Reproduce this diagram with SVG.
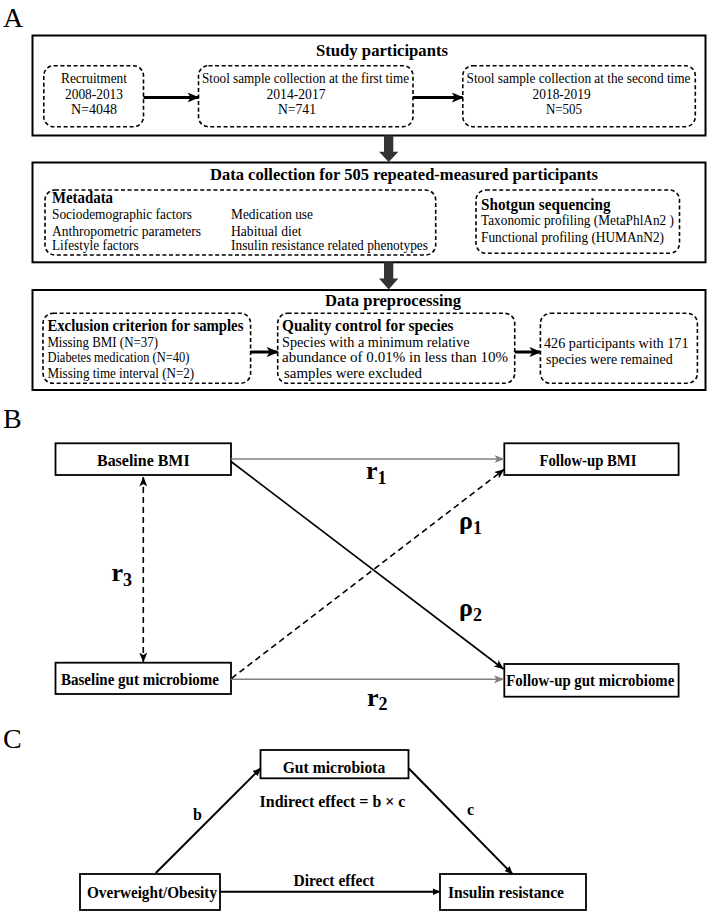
<svg xmlns="http://www.w3.org/2000/svg" width="708" height="913" viewBox="0 0 708 913">
<style>
text { font-family: "Liberation Serif", "Times New Roman", serif; fill: #000; }
.lbl { font-size: 28px; }
.h { font-size: 17px; font-weight: bold; }
.sh { font-size: 16px; font-weight: bold; }
.n { font-size: 15px; }
.nb { font-size: 16px; font-weight: bold; }
.sym { font-size: 26px; font-weight: bold; }
.sub { font-size: 18px; }
.box { fill: #fff; stroke: #000; stroke-width: 2; }
.bbox { fill: #fff; stroke: #000; stroke-width: 1.8; }
.dbox { fill: none; stroke: #000; stroke-width: 1.6; stroke-dasharray: 4 2.6; }
.thick { stroke: #000; stroke-width: 3; fill: none; }
.gray { stroke: #808080; stroke-width: 1.6; fill: none; }
.blk { stroke: #000; stroke-width: 1.6; fill: none; }
.dash { stroke: #000; stroke-width: 1.6; fill: none; stroke-dasharray: 6 4; }
.carr { stroke: #000; stroke-width: 2; fill: none; }
</style>
<defs>
<marker id="mA" markerUnits="userSpaceOnUse" viewBox="0 0 12 10" markerWidth="12" markerHeight="10" refX="11" refY="5" orient="auto"><path d="M0,0 L12,5 L0,10 L3,5 z" fill="#000"/></marker>
<marker id="mG" markerUnits="userSpaceOnUse" viewBox="0 0 10 8" markerWidth="10" markerHeight="8" refX="9.5" refY="4" orient="auto"><path d="M0,0 L10,4 L0,8 L2.5,4 z" fill="#808080"/></marker>
<marker id="mK" markerUnits="userSpaceOnUse" viewBox="0 0 10 8" markerWidth="10" markerHeight="8" refX="9.5" refY="4" orient="auto-start-reverse"><path d="M0,0 L10,4 L0,8 L2.5,4 z" fill="#000"/></marker>
<marker id="mC" markerUnits="userSpaceOnUse" viewBox="0 0 8 7" markerWidth="8" markerHeight="7" refX="7.5" refY="3.5" orient="auto"><path d="M0,0 L8,3.5 L0,7 z" fill="#000"/></marker>
</defs>
<rect width="708" height="913" fill="#fff"/>

<!-- Panel labels -->
<text class="lbl" x="3" y="27">A</text>
<text class="lbl" x="3" y="428">B</text>
<text class="lbl" x="3" y="748">C</text>

<!-- Panel A -->
<g id="study-participants">
<rect class="box" x="32.5" y="35.5" width="673" height="100"/>
<text class="h" x="382" y="56" text-anchor="middle" textLength="132" lengthAdjust="spacingAndGlyphs">Study participants</text>
</g>
<g id="recruitment">
<rect class="dbox" x="43.8" y="65.7" width="99.7" height="61" rx="10"/>
<text class="n" x="94" y="83" text-anchor="middle" textLength="66" lengthAdjust="spacingAndGlyphs">Recruitment</text>
<text class="n" x="94" y="98.5" text-anchor="middle" textLength="58" lengthAdjust="spacingAndGlyphs">2008-2013</text>
<text class="n" x="94" y="114" text-anchor="middle" textLength="46" lengthAdjust="spacingAndGlyphs">N=4048</text>
</g>
<g id="stool-first">
<rect class="dbox" x="198.5" y="65.7" width="214.5" height="61" rx="10"/>
<text class="n" x="202" y="83" textLength="207" lengthAdjust="spacingAndGlyphs">Stool sample collection at the first time</text>
<text class="n" x="296" y="98.5" text-anchor="middle" textLength="59" lengthAdjust="spacingAndGlyphs">2014-2017</text>
<text class="n" x="297" y="114" text-anchor="middle" textLength="38" lengthAdjust="spacingAndGlyphs">N=741</text>
</g>
<g id="stool-second">
<rect class="dbox" x="462.8" y="65.7" width="232.5" height="61" rx="10"/>
<text class="n" x="466.5" y="83" textLength="224" lengthAdjust="spacingAndGlyphs">Stool sample collection at the second time</text>
<text class="n" x="561.6" y="98.5" text-anchor="middle" textLength="58" lengthAdjust="spacingAndGlyphs">2018-2019</text>
<text class="n" x="564" y="114" text-anchor="middle" textLength="36" lengthAdjust="spacingAndGlyphs">N=505</text>
</g>

<g id="data-collection">
<rect class="box" x="32.5" y="162.5" width="673" height="99.8"/>
<text class="h" x="404" y="180" text-anchor="middle" textLength="388" lengthAdjust="spacingAndGlyphs">Data collection for 505 repeated-measured participants</text>
</g>
<g id="metadata">
<rect class="dbox" x="45" y="190" width="390.7" height="65" rx="10"/>
<text class="sh" x="52" y="202.5" textLength="61" lengthAdjust="spacingAndGlyphs">Metadata</text>
<text class="n" x="52" y="219" textLength="140" lengthAdjust="spacingAndGlyphs">Sociodemographic factors</text>
<text class="n" x="231" y="219" textLength="82" lengthAdjust="spacingAndGlyphs">Medication use</text>
<text class="n" x="52" y="235.5" textLength="149" lengthAdjust="spacingAndGlyphs">Anthropometric parameters</text>
<text class="n" x="231" y="235.5" textLength="70.6" lengthAdjust="spacingAndGlyphs">Habitual diet</text>
<text class="n" x="52" y="250" textLength="86.6" lengthAdjust="spacingAndGlyphs">Lifestyle factors</text>
<text class="n" x="231" y="250" textLength="197" lengthAdjust="spacingAndGlyphs">Insulin resistance related phenotypes</text>
</g>
<g id="shotgun">
<rect class="dbox" x="476" y="190" width="203.5" height="63.3" rx="10"/>
<text class="sh" x="481" y="209.5" textLength="129.6" lengthAdjust="spacingAndGlyphs">Shotgun sequencing</text>
<text class="n" x="481" y="225" textLength="193" lengthAdjust="spacingAndGlyphs">Taxonomic profiling (MetaPhlAn2 )</text>
<text class="n" x="481" y="241.5" textLength="183" lengthAdjust="spacingAndGlyphs">Functional profiling (HUMAnN2)</text>
</g>

<g id="data-preprocessing">
<rect class="box" x="32.5" y="290" width="673" height="100"/>
<text class="h" x="393" y="305.5" text-anchor="middle" textLength="136" lengthAdjust="spacingAndGlyphs">Data preprocessing</text>
</g>
<g id="exclusion">
<rect class="dbox" x="43" y="313.3" width="207.6" height="70" rx="10"/>
<text class="sh" x="47.4" y="330.5" textLength="196" lengthAdjust="spacingAndGlyphs">Exclusion criterion for samples</text>
<text class="n" x="47.4" y="346.5" textLength="110.6" lengthAdjust="spacingAndGlyphs">Missing BMI (N=37)</text>
<text class="n" x="47.4" y="362" textLength="142" lengthAdjust="spacingAndGlyphs">Diabetes medication (N=40)</text>
<text class="n" x="47.4" y="377.5" textLength="146.7" lengthAdjust="spacingAndGlyphs">Missing time interval (N=2)</text>
</g>
<g id="quality-control">
<rect class="dbox" x="277.7" y="313.3" width="237" height="70" rx="10"/>
<text class="sh" x="282" y="330.5" textLength="171.5" lengthAdjust="spacingAndGlyphs">Quality control for species</text>
<text class="n" x="282" y="346.5" textLength="187.5" lengthAdjust="spacingAndGlyphs">Species with a minimum relative</text>
<text class="n" x="282" y="362" textLength="226" lengthAdjust="spacingAndGlyphs">abundance of 0.01% in less than 10%</text>
<text class="n" x="284" y="377.5" textLength="138" lengthAdjust="spacingAndGlyphs">samples were excluded</text>
</g>
<g id="result">
<rect class="dbox" x="540.4" y="313.3" width="157" height="70" rx="10"/>
<text class="n" x="544" y="348" textLength="144.5" lengthAdjust="spacingAndGlyphs">426 participants with 171</text>
<text class="n" x="546" y="364" textLength="126.7" lengthAdjust="spacingAndGlyphs">species were remained</text>
</g>

<!-- Panel B nodes -->
<g id="baseline-bmi">
<rect class="bbox" x="55.5" y="443.3" width="175.5" height="31.7"/>
<text class="nb" x="143.3" y="466" text-anchor="middle" textLength="92.6" lengthAdjust="spacingAndGlyphs">Baseline BMI</text>
</g>
<g id="followup-bmi">
<rect class="bbox" x="504.3" y="443.3" width="174.3" height="31.7"/>
<text class="nb" x="588" y="466" text-anchor="middle" textLength="97" lengthAdjust="spacingAndGlyphs">Follow-up BMI</text>
</g>
<g id="baseline-gut">
<rect class="bbox" x="55.5" y="662.7" width="175.5" height="31.3"/>
<text class="nb" x="140" y="685" text-anchor="middle" textLength="158" lengthAdjust="spacingAndGlyphs">Baseline gut microbiome</text>
</g>
<g id="followup-gut">
<rect class="bbox" x="504.3" y="664" width="174.3" height="32.7"/>
<text class="nb" x="590.3" y="686" text-anchor="middle" textLength="168" lengthAdjust="spacingAndGlyphs">Follow-up gut microbiome</text>
</g>

<!-- Panel C nodes -->
<g id="gut-microbiota">
<rect class="bbox" x="260.5" y="750" width="148" height="28.3"/>
<text class="nb" x="334" y="773" text-anchor="middle" textLength="102.6" lengthAdjust="spacingAndGlyphs">Gut microbiota</text>
</g>
<g id="overweight">
<rect class="bbox" x="80" y="874" width="140" height="36"/>
<text class="nb" x="152" y="897.5" text-anchor="middle" textLength="130" lengthAdjust="spacingAndGlyphs">Overweight/Obesity</text>
</g>
<g id="insulin-resistance">
<rect class="bbox" x="440" y="874" width="146" height="36"/>
<text class="nb" x="506" y="897.5" text-anchor="middle" textLength="116" lengthAdjust="spacingAndGlyphs">Insulin resistance</text>
</g>

<!-- Connectors -->
<g id="connectors">
<line class="thick" x1="143.5" y1="97.5" x2="198.5" y2="97.5" marker-end="url(#mA)"/>
<line class="thick" x1="413" y1="97.5" x2="462.8" y2="97.5" marker-end="url(#mA)"/>
<path d="M384,135.5 L393.3,135.5 L393.3,151.7 L398.3,151.7 L388.7,162 L379,151.7 L384,151.7 z" fill="#333"/>
<path d="M384,262.3 L393.3,262.3 L393.3,278.5 L398.3,278.5 L388.7,289.5 L379,278.5 L384,278.5 z" fill="#333"/>
<line class="thick" x1="250.6" y1="352" x2="277.7" y2="352" marker-end="url(#mA)"/>
<line class="thick" x1="514.7" y1="352" x2="540.4" y2="352" marker-end="url(#mA)"/>

<line class="gray" x1="231" y1="459" x2="504" y2="459" marker-end="url(#mG)"/>
<line class="gray" x1="231" y1="679.3" x2="503.5" y2="679.3" marker-end="url(#mG)"/>
<line class="blk" x1="231" y1="461.5" x2="503.5" y2="669" marker-end="url(#mK)"/>
<line class="dash" x1="231.6" y1="678.3" x2="504" y2="469.5" marker-end="url(#mK)"/>
<line class="dash" x1="143.3" y1="477" x2="143.3" y2="662" marker-start="url(#mK)" marker-end="url(#mK)"/>

<line class="carr" x1="155.8" y1="873" x2="260.5" y2="768.3" marker-end="url(#mC)"/>
<line class="carr" x1="408.6" y1="768.3" x2="512.4" y2="874" marker-end="url(#mC)"/>
<line class="carr" x1="220" y1="891.7" x2="440" y2="891.7" marker-end="url(#mC)"/>

<text class="sym" x="366" y="479">r<tspan class="sub" dy="5">1</tspan></text>
<text class="sym" x="367" y="705.5">r<tspan class="sub" dy="4">2</tspan></text>
<text class="sym" x="111.5" y="580.5">r<tspan class="sub" dy="5.5">3</tspan></text>
<text class="sym" x="459" y="529">ρ<tspan class="sub" dy="5">1</tspan></text>
<text class="sym" x="459" y="615.5">ρ<tspan class="sub" dy="5">2</tspan></text>

<text class="nb" x="259.6" y="806.5" textLength="145.8" lengthAdjust="spacingAndGlyphs">Indirect effect = b × c</text>
<text class="nb" x="193" y="820">b</text>
<text class="nb" x="467" y="815">c</text>
<text class="nb" x="293.5" y="886" textLength="81" lengthAdjust="spacingAndGlyphs">Direct effect</text>
</g>
</svg>
